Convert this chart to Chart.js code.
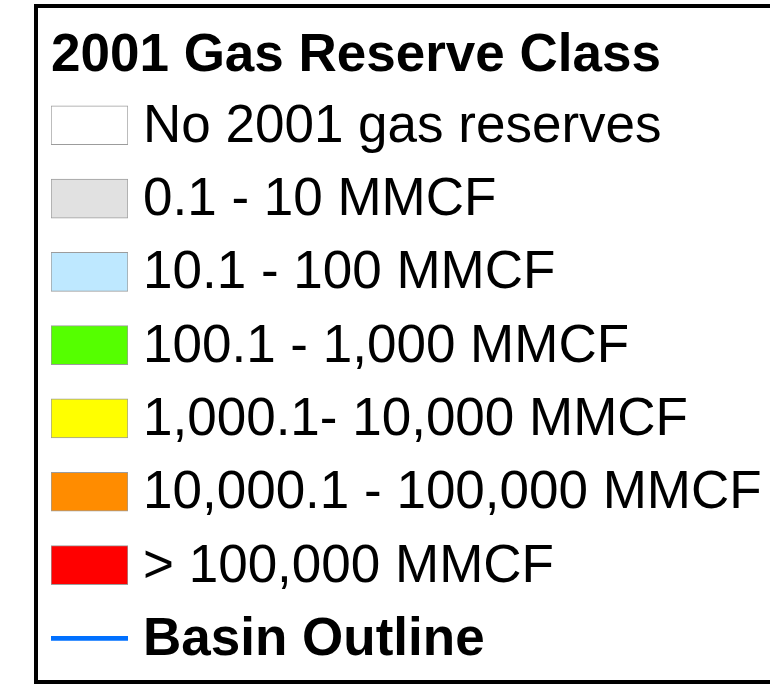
<!DOCTYPE html>
<html>
<head>
<meta charset="utf-8">
<script src="https://cdn.jsdelivr.net/npm/chart.js@4"></script>
<style>
  body { margin: 0; background: #fff; }
  #frame {
    position: absolute; left: 34px; top: 4px;
    width: 800px; height: 680px;
    border: 4px solid #000; box-sizing: border-box;
  }
  #legendChart { position: absolute; left: 0; top: 0; }
</style>
</head>
<body>
<div id="frame"></div>
<canvas id="legendChart" width="770" height="685"></canvas>
<script>
const legendTitle = '2001 Gas Reserve Class'
const reserveClasses = [
    'No 2001 gas reserves',
    '0.1 - 10 MMCF',
    '10.1 - 100 MMCF',
    '100.1 - 1,000 MMCF',
    '1,000.1- 10,000 MMCF',
    '10,000.1 - 100,000 MMCF',
    '> 100,000 MMCF'
]
const classColors = ['#ffffff', '#e1e1e1', '#bee8ff', '#55ff00', '#ffff00', '#ff8c00', '#ff0000']
const outlineLabel = 'Basin Outline'
const outlineColor = '#0070ff'
// every swatch spans the full (hidden) x range
const swatchSpan = [0, 1]

const labels = reserveClasses.concat([outlineLabel])
const classData = reserveClasses.map(() => swatchSpan).concat([null])
const outlineData = reserveClasses.map(() => null).concat([swatchSpan])

const fontFamily = '"Liberation Sans", Arial, sans-serif'

var ctx = document.getElementById('legendChart').getContext('2d');
var legendChart = new Chart(ctx, {
    type: 'bar',
    data: {
        labels: labels,
        datasets: [{
            label: 'Reserve class',
            data: classData,
            backgroundColor: classColors,
            borderColor: '#9c9c9c',
            borderWidth: 1,
            borderSkipped: false,
            barThickness: 39,
            grouped: false
        }, {
            label: outlineLabel,
            data: outlineData,
            backgroundColor: outlineColor,
            borderWidth: 0,
            barThickness: 4,
            grouped: false
        }]
    },
    options: {
        indexAxis: 'y',
        responsive: false,
        animation: false,
        layout: {
            padding: { left: 51, right: 0, top: 0, bottom: 10 }
        },
        plugins: {
            legend: { display: false },
            tooltip: { enabled: false },
            title: {
                display: true,
                text: legendTitle,
                align: 'start',
                color: '#000',
                font: { family: fontFamily, size: 53, weight: 'bold', lineHeight: 1.2 },
                padding: { top: 25, bottom: 0 }
            }
        },
        scales: {
            x: {
                display: false,
                min: 0,
                max: 1
            },
            y: {
                position: 'right',
                grid: { display: false, drawTicks: false },
                border: { display: false },
                ticks: {
                    color: '#000',
                    padding: 15,
                    labelOffset: 2,
                    font: (c) => ({
                        family: fontFamily,
                        size: 53,
                        weight: c.index === reserveClasses.length ? 'bold' : 'normal'
                    })
                },
                afterFit: (scale) => {
                    scale.width = 642
                    scale.paddingTop = 0
                    scale.paddingBottom = 0
                }
            }
        }
    }
});
</script>
</body>
</html>
